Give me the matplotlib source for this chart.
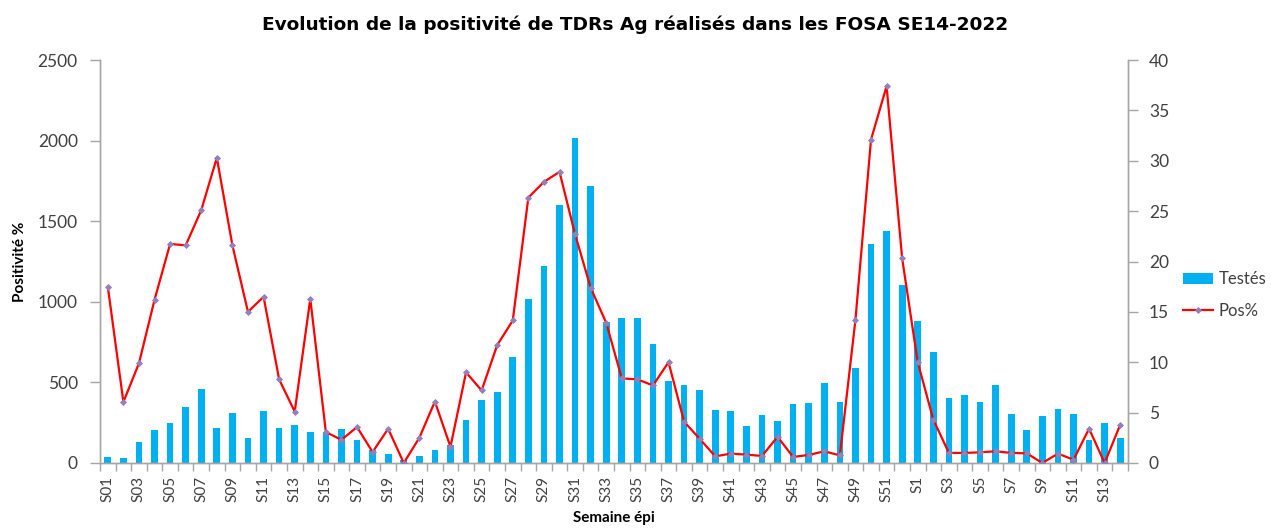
import matplotlib
matplotlib.use("Agg")
import matplotlib.pyplot as plt
import numpy as np

weeks = [f"S{i:02d}" for i in range(1, 53)] + [f"S{i}" for i in range(1, 15)]

testes = [37, 29, 128, 202, 246, 345, 459, 217, 310, 157,
          322, 217, 233, 192, 195, 213, 143, 82, 58, 20,
          41, 83, 114, 264, 388, 438, 657, 1017, 1225, 1601,
          2018, 1719, 875, 897, 897, 740, 506, 481, 455, 331,
          322, 227, 298, 258, 364, 370, 494, 380, 587, 1359,
          1442, 1103, 882, 686, 403, 421, 376, 486, 306, 205,
          293, 335, 306, 145, 248, 155]

pos = [17.5, 6.05, 9.9, 16.2, 21.75, 21.6, 25.1, 30.3, 21.6, 15.0,
       16.5, 8.3, 5.1, 16.3, 3.07, 2.3, 3.57, 1.09, 3.4, 0.0,
       2.5, 6.1, 1.6, 9.0, 7.2, 11.7, 14.15, 26.35, 27.9, 28.9,
       22.7, 17.4, 13.9, 8.4, 8.3, 7.7, 10.0, 4.1, 2.4, 0.66,
       0.93, 0.83, 0.7, 2.6, 0.6, 0.8, 1.16, 0.76, 14.2, 32.1,
       37.4, 20.3, 10.0, 4.3, 1.0, 1.0, 1.06, 1.16, 1.0, 0.96,
       0.0, 0.93, 0.33, 3.4, 0.0, 3.8]

plt.rcParams['font.family'] = ['Lato', 'DejaVu Sans']
grey = '#404040'
axcol = '#a6a6a6'

fig = plt.figure(figsize=(12.71, 5.32), dpi=100)
ax = fig.add_axes([0.0787, 0.1297, 0.8088, 0.7575])
x = np.arange(len(weeks))
b = ax.bar(x, testes, width=0.43, color='#00B0F0', label='Testés', zorder=2)
ax.set_xlim(-0.5, len(weeks) - 0.5)
ax.set_ylim(0, 2500)
ax.set_yticks(range(0, 2501, 500))

ax2 = ax.twinx()
l, = ax2.plot(x, pos, color='#FF0000', lw=1.6, marker='D', markersize=3,
              markerfacecolor='#9b7fb3', markeredgecolor='#8a82c4',
              markeredgewidth=0.6, label='Pos%', zorder=3)
ax2.set_ylim(0, 40)
ax2.set_yticks(range(0, 41, 5))
ax2.set_xlim(-0.5, len(weeks) - 0.5)

for a in (ax, ax2):
    a.spines['top'].set_visible(False)
    for s in ('left', 'right', 'bottom'):
        a.spines[s].set_color(axcol)
        a.spines[s].set_linewidth(1.0)
    a.tick_params(axis='y', colors=axcol, labelcolor=grey, labelsize=12.5,
                  length=7, width=1.0, direction='out')
ax.tick_params(axis='y', pad=9)
ax2.tick_params(axis='y', pad=8)

ax.set_xticks(x[::2])
ax.set_xticklabels(weeks[::2], rotation=90, fontsize=11, color=grey)
ax.set_xticks(np.arange(-0.5, len(weeks), 1), minor=True)
ax.tick_params(axis='x', which='major', length=0, pad=9)
ax.tick_params(axis='x', which='minor', length=6, color=axcol, width=1.0)

ax.set_ylabel('Positivité %', fontsize=11, fontweight='bold', labelpad=8)
ax.set_xlabel('Semaine épi', fontsize=11, fontweight='bold', labelpad=7)
fig.text(0.5, 0.953, 'Evolution de la positivité de TDRs Ag réalisés dans les FOSA SE14-2022',
         ha='center', va='center', fontsize=13.3, fontweight='bold', color='black',
         family='DejaVu Sans')

fig.legend([b, l], ['Testés', 'Pos%'], loc='center left',
           bbox_to_anchor=(0.931, 0.445), frameon=False, fontsize=12,
           handlelength=1.8, handletextpad=0.3, labelspacing=0.95,
           borderpad=0, borderaxespad=0, labelcolor=grey)

fig.savefig('out.png', dpi=100)
